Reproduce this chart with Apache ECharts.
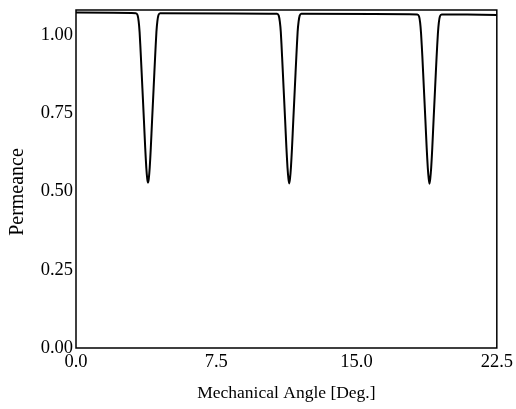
<!DOCTYPE html>
<html>
<head>
<meta charset="utf-8">
<script src="https://cdn.jsdelivr.net/npm/echarts@6/dist/echarts.min.js"></script>
<style>
html,body{margin:0;padding:0;background:#fff;}
#c{width:516px;height:409px;}
</style>
</head>
<body>
<div id="c"></div>
<script>
// Mechanical angle [deg]
var angle = [
  0.00,
  3.20, 3.29, 3.35, 3.40, 3.47, 3.55, 3.63, 3.70, 3.76, 3.81, 3.85, 3.89, 3.94, 4.00, 4.07, 4.15, 4.23, 4.30, 4.35, 4.41, 4.50,
  10.75, 10.84, 10.90, 10.95, 11.02, 11.10, 11.18, 11.25, 11.31, 11.36, 11.40, 11.44, 11.49, 11.55, 11.62, 11.70, 11.78, 11.85, 11.90, 11.96, 12.05,
  18.25, 18.34, 18.40, 18.45, 18.52, 18.60, 18.68, 18.75, 18.81, 18.86, 18.90, 18.94, 18.99, 19.05, 19.12, 19.20, 19.28, 19.35, 19.40, 19.46, 19.55,
  22.50
];
// Permeance values
var permeance = [
  1.072,
  1.070, 1.064, 1.044, 1.010, 0.930, 0.830, 0.730, 0.640, 0.575, 0.540, 0.528, 0.540, 0.575, 0.640, 0.730, 0.830, 0.930, 1.010, 1.044, 1.064, 1.070,
  1.068, 1.062, 1.042, 1.010, 0.930, 0.830, 0.730, 0.640, 0.575, 0.540, 0.526, 0.540, 0.575, 0.640, 0.730, 0.830, 0.930, 1.010, 1.042, 1.062, 1.068,
  1.066, 1.060, 1.040, 1.005, 0.930, 0.830, 0.730, 0.640, 0.575, 0.540, 0.525, 0.540, 0.575, 0.640, 0.730, 0.830, 0.930, 1.005, 1.040, 1.060, 1.066,
  1.064
];
var xTickLabels = ["0.0", "7.5", "15.0", "22.5"];
var yTickLabels = ["0.00", "0.25", "0.50", "0.75", "1.00"];

var pts = angle.map(function (a, i) { return [a, permeance[i]]; });
var font = "Liberation Serif";

var chart = echarts.init(document.getElementById('c'), null, {renderer: 'canvas'});
chart.setOption({
  animation: false,
  backgroundColor: '#ffffff',
  grid: {
    left: 76, right: 19, top: 10, bottom: 61,
    show: true, borderColor: '#000', borderWidth: 1.5, backgroundColor: 'transparent'
  },
  xAxis: {
    type: 'value', min: 0, max: 22.5, interval: 7.5,
    name: 'Mechanical Angle [Deg.]', nameLocation: 'middle', nameGap: 36,
    nameTextStyle: {fontFamily: font, fontSize: 17.5, color: '#000'},
    axisLine: {show: false}, axisTick: {show: false}, splitLine: {show: false},
    axisLabel: {
      fontFamily: font, fontSize: 18.5, color: '#000', margin: 5,
      formatter: function (v) { return xTickLabels[Math.round(v / 7.5)]; }
    }
  },
  yAxis: {
    type: 'value', min: 0, max: 1.08, interval: 0.25,
    name: 'Permeance', nameLocation: 'middle', nameGap: 48,
    nameTextStyle: {fontFamily: font, fontSize: 20, color: '#000', padding: [0, 26, 0, 0]},
    axisLine: {show: false}, axisTick: {show: false}, splitLine: {show: false},
    axisLabel: {
      fontFamily: font, fontSize: 18.5, color: '#000', margin: 3, showMaxLabel: false,
      formatter: function (v) { var k = Math.round(v / 0.25); return yTickLabels[k] || ''; }
    }
  },
  series: [{
    type: 'line', data: pts, showSymbol: false, smooth: 0.25,
    lineStyle: {color: '#000', width: 2}
  }]
});
</script>
</body>
</html>
